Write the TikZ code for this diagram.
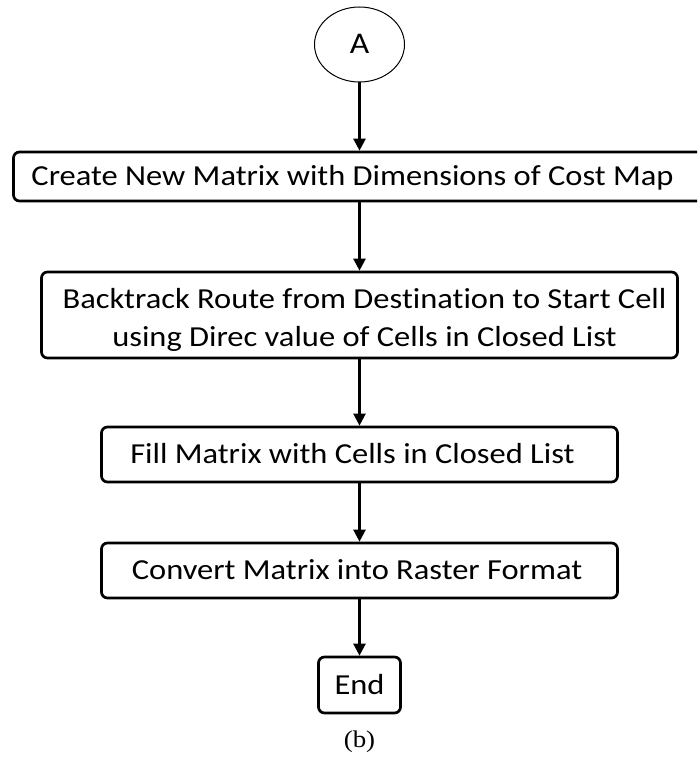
\documentclass[tikz,border=0pt]{standalone}
\usepackage{fontspec}
\setmainfont{Carlito}[FakeStretch=1.12, Ligatures=NoCommon]
\newfontfamily\captionfont{Liberation Serif}[FakeStretch=1.12]
\usetikzlibrary{arrows.meta,shapes.geometric}
\begin{document}
\begin{tikzpicture}[x=1pt,y=-1pt,
  boxtext/.style={font=\fontsize{29}{38}\selectfont},
  stepbox/.style={draw, line width=2.7pt, rounded corners=6pt, inner sep=0pt,
    boxtext, text height=18.3pt, text depth=0pt},
  flow/.style={line width=2.4pt, -{Triangle[width=12pt,length=12pt]}},
  startcirc/.style={draw, ellipse, line width=1pt, inner sep=0pt,
    minimum width=90pt, minimum height=75pt, font=\fontsize{30}{36}\selectfont,
    text height=19pt, text depth=0pt}]
  \useasboundingbox (0,0) rectangle (697,757);
  \clip (0,0) rectangle (697,757);

  \node[startcirc] (a) at (359.5,44.5) {A};
  \node[stepbox, minimum width=692pt, minimum height=49pt] (create) at (359.5,176.5)
    {\hspace*{-14pt}Create New Matrix with Dimensions of Cost Map};
  \node[stepbox, minimum width=636pt, minimum height=86pt] (back) at (359.5,315) {};
  \node[boxtext, align=center, inner sep=0pt] (backtext) at (364.5,319.6)
    {Backtrack Route from Destination to Start Cell\\using Direc value of Cells in Closed List};
  \node[stepbox, minimum width=516pt, minimum height=55pt] (fill) at (359.5,454.5)
    {\hspace*{-14pt}Fill Matrix with Cells in Closed List};
  \node[stepbox, minimum width=516pt, minimum height=55pt] (conv) at (359.5,570.5)
    {\hspace*{-5pt}Convert Matrix into Raster Format};
  \node[stepbox, minimum width=82pt, minimum height=56pt] (end) at (359.5,685)
    {End};
  \node[font=\captionfont\fontsize{24}{28}\selectfont, inner sep=0pt] (cap) at (359.5,742) {(b)};

  \draw[flow] (a) -- (create);
  \draw[flow] (create) -- (back);
  \draw[flow] (back) -- (fill);
  \draw[flow] (fill) -- (conv);
  \draw[flow] (conv) -- (end);
\end{tikzpicture}
\end{document}
